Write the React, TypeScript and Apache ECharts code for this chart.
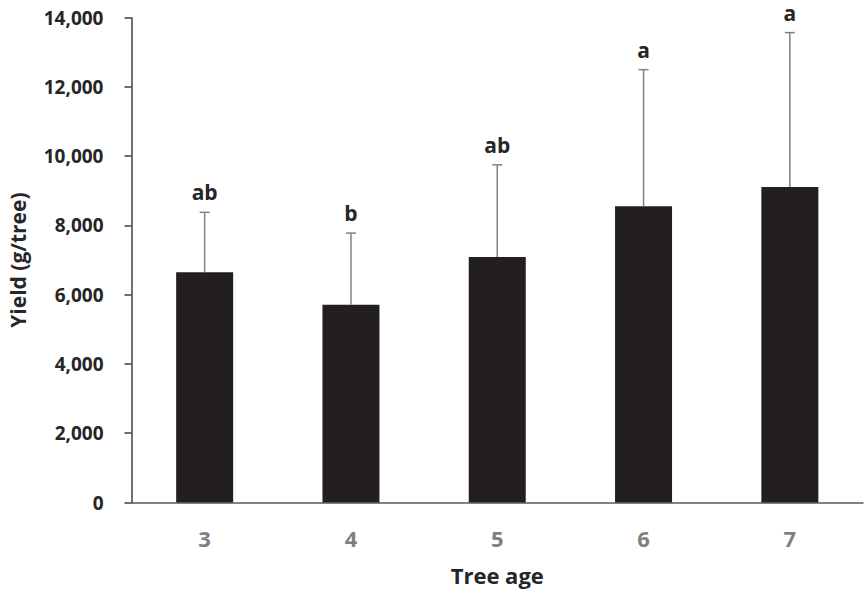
import React, { useEffect, useRef } from "react";
import * as echarts from "echarts";

const categories = ["3", "4", "5", "6", "7"];
const yieldMeans = [6650, 5710, 7090, 8555, 9110];
const yieldUpper = [8380, 7780, 9750, 12500, 13570];
const letters = ["ab", "b", "ab", "a", "a"];

export default function App() {
  const ref = useRef<HTMLDivElement>(null);
  useEffect(() => {
    if (!ref.current) return;
    const chart = echarts.init(ref.current, null, { renderer: "svg" });
    const errData = categories.map((c, i) => [i, yieldMeans[i], yieldUpper[i], letters[i]]);
    chart.setOption({
      animation: false,
      backgroundColor: "#ffffff",
      grid: { left: 131.5, right: 2, top: 17.7, bottom: 91.5, containLabel: false, outerBoundsMode: "none" },
      xAxis: {
        type: "category",
        data: categories,
        axisLine: { lineStyle: { color: "#595959", width: 1.5 } },
        axisTick: { show: false },
        axisLabel: { color: "#7f7f7f", fontSize: 22, fontWeight: "bold", fontFamily: "Open Sans", margin: 24 },
        name: "Tree age",
        nameLocation: "middle",
        nameGap: 61,
        nameTextStyle: { color: "#262626", fontSize: 22, fontWeight: "bold", fontFamily: "Open Sans" },
      },
      yAxis: {
        type: "value",
        min: 0,
        max: 14000,
        interval: 2000,
        splitLine: { show: false },
        axisLine: { show: true, lineStyle: { color: "#404040", width: 1.5 } },
        axisTick: { show: true, length: 7, lineStyle: { color: "#404040", width: 1.5 } },
        axisLabel: {
          color: "#262626",
          fontSize: 19,
          fontWeight: "bold",
          fontFamily: "Open Sans",
          margin: 28,
          formatter: (v: number) => v.toLocaleString("en-US"),
        },
        name: "Yield (g/tree)",
        nameLocation: "middle",
        nameGap: 103,
        nameTextStyle: { color: "#262626", fontSize: 21, fontWeight: "bold", fontFamily: "Open Sans" },
      },
      series: [
        {
          type: "bar",
          data: yieldMeans,
          barWidth: 57,
          itemStyle: { color: "#231f20" },
        },
        {
          type: "custom",
          data: errData,
          z: 5,
          renderItem: (params: any, api: any) => {
            const x = api.value(0);
            const low = api.coord([x, api.value(1)]);
            const high = api.coord([x, api.value(2)]);
            const lineStyle = { stroke: "#808080", lineWidth: 1.5 };
            return {
              type: "group",
              children: [
                { type: "line", shape: { x1: low[0], y1: low[1], x2: high[0], y2: high[1] }, style: lineStyle },
                { type: "line", shape: { x1: high[0] - 5, y1: high[1], x2: high[0] + 5, y2: high[1] }, style: lineStyle },
                {
                  type: "text",
                  x: high[0],
                  y: high[1] - 20,
                  style: {
                    text: String(api.value(3)),
                    fill: "#262626",
                    font: "bold 21px 'Open Sans'",
                    align: "center",
                    verticalAlign: "middle",
                  },
                },
              ],
            };
          },
        },
      ],
    });
    return () => chart.dispose();
  }, []);
  return <div ref={ref} style={{ width: 865, height: 594, position: "absolute", left: 0, top: 0 }} />;
}
